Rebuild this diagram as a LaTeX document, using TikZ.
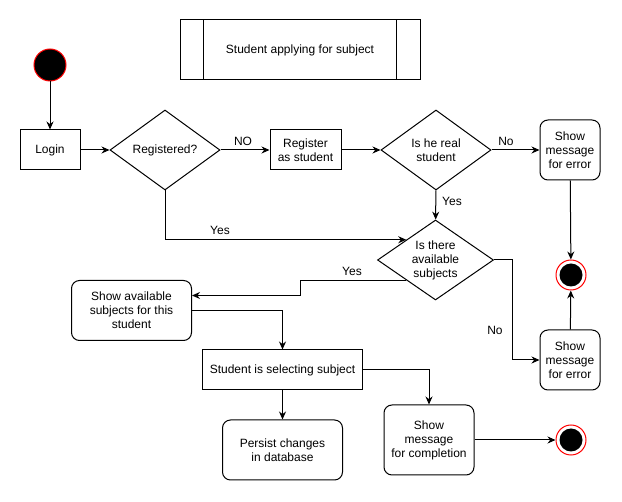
\documentclass[tikz,border=0pt]{standalone}
\usepackage{fontspec}
\setmainfont{Liberation Sans}
\usetikzlibrary{arrows.meta, shapes.geometric, calc, positioning}

\begin{document}
\begin{tikzpicture}[x=1pt, y=-1pt, line width=1pt, font=\fontsize{12}{14}\selectfont]
\tikzset{act/.style={draw, align=center, inner sep=0pt},
  ract/.style={act, rounded corners=8pt},
  cond/.style={draw, diamond, align=center, inner sep=0pt, aspect=1.375, minimum width=110pt, minimum height=80pt},
  arr/.style={-{Stealth[length=8pt, width=7pt]}},
  final/.style={circle, draw=red, fill=white, minimum size=30pt, inner sep=0pt,
    path picture={\fill[black] (path picture bounding box.center) circle (11.5pt);}}}
  \useasboundingbox (0,0) rectangle (622,502);

  \node [act, minimum width=240pt, minimum height=60pt] (T) at (300,50) {Student applying for subject};
  \draw ([xshift=24pt]T.north west) -- ([xshift=24pt]T.south west);
  \draw ([xshift=-24pt]T.north east) -- ([xshift=-24pt]T.south east);

  \node [circle, draw=red, fill=black, minimum size=32pt, inner sep=0pt] (S0) at (50,65) {};
  \node [act, minimum width=60pt, minimum height=40pt] (L) at (50,150) {Login};
  \node [cond] (R) at (165,150) {Registered?};
  \node [act, minimum width=71pt, minimum height=40pt] (RS) at (305.5,150) {Register\\as student};
  \node [cond] (H) at (436,150) {Is he real\\student};
  \node [ract, minimum width=60pt, minimum height=60pt] (E1) at (570,150) {Show\\message\\for error};
  \node [cond, minimum width=116pt] (A) at (435.5,260) {Is there\\available\\subjects};
  \node [final] (F1) at (571,275) {};
  \node [ract, minimum width=60pt, minimum height=60pt] (E2) at (570,360) {Show\\message\\for error};
  \node [ract, minimum width=120pt, minimum height=60pt] (SA) at (131.5,310.5) {Show available\\subjects for this\\student};
  \node [act, minimum width=160pt, minimum height=40pt] (SS) at (282.5,370) {Student is selecting subject};
  \node [ract, minimum width=120pt, minimum height=60pt] (P) at (282.5,450) {Persist changes\\in database};
  \node [ract, minimum width=90pt, minimum height=70pt] (C) at (429,440) {Show\\message\\for completion};
  \node [final] (F2) at (571,440) {};

  \draw [arr] (S0) -- (L);
  \draw [arr] (L) -- (R);
  \draw [arr] (R) -- (RS);
  \draw [arr] (RS) -- (H);
  \draw [arr] (H) -- (E1);
  \draw [arr] (H) -- (A);
  \draw [arr] (R.south) |- (A.north west);
  \draw [arr] (E1) -- (F1);
  \draw [arr] (E2) -- (F1);
  \draw [arr] (A.east) -- ++(18,0) |- (E2.west);
  \draw [arr] (A.south west) -| ([xshift=108.5pt, yshift=15pt]SA.east) -- ([yshift=15pt]SA.east);
  \draw [arr] (SA.east) -| (SS.north);
  \draw [arr] (SS) -- (P);
  \draw [arr] (SS.east) -| (C.north);
  \draw [arr] (C) -- (F2);

  \node (l1) at (243,141) {NO};
  \node (l2) at (506,141) {No};
  \node (l3) at (452,201) {Yes};
  \node (l4) at (220,230) {Yes};
  \node (l5) at (352,271) {Yes};
  \node (l6) at (495,330) {No};
\end{tikzpicture}
\end{document}
